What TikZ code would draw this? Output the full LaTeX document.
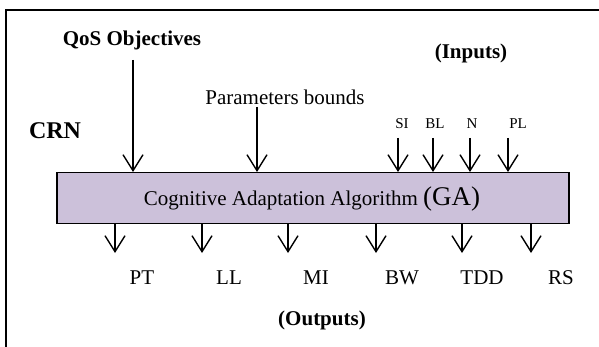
\documentclass[tikz,border=0pt]{standalone}
\usepackage{fontspec}
\setmainfont{Liberation Serif}
\usetikzlibrary{arrows.meta}
\definecolor{boxfill}{HTML}{CCC1DA}
\tikzset{
  inarrow/.style={line width=1.4pt,-{Straight Barb[length=16pt,width=20pt,line width=1.4pt]}},
  lbl/.style={font=\fontsize{21}{24}\selectfont,inner sep=0pt},
  blbl/.style={font=\fontsize{21}{24}\selectfont\bfseries,inner sep=0pt},
  slbl/.style={font=\fontsize{15}{17}\selectfont,inner sep=0pt},
}
\begin{document}
\begin{tikzpicture}[x=1pt,y=-1pt]
\useasboundingbox (0,0) rectangle (599,347);
\fill[white] (0,0) rectangle (599,347);
% frame
\draw[line width=2pt] (6,348) -- (6,10) -- (600,10);
% main box
\node[draw,line width=1.5pt,fill=boxfill,minimum width=512pt,minimum height=51pt,inner sep=0pt,anchor=north west] (ga) at (56,172) {};
\node[lbl] (gat) at (312,199) {Cognitive Adaptation Algorithm \fontsize{27}{30}\selectfont(GA)};
% labels
\node[blbl] (qos) at (132,40) {QoS Objectives};
\node[lbl] (pb) at (285,97) {Parameters bounds};
\node[blbl,font=\fontsize{24}{27}\selectfont\bfseries] (crn) at (55,131) {CRN};
\node[blbl] (inp) at (471,53) {(Inputs)};
\node[blbl] (outp) at (322,320) {(Outputs)};
\node[slbl] (si) at (402,124) {SI};
\node[slbl] (bl) at (435,124) {BL};
\node[slbl] (n) at (472,124) {N};
\node[slbl] (pl) at (518,124) {PL};
% input arrows
\coordinate (q0) at (133,60);
\coordinate (p0) at (257,107);
\coordinate (s0) at (398,138);
\coordinate (b0) at (433,138);
\coordinate (n0) at (470,138);
\coordinate (l0) at (508,138);
\foreach \c in {q0,p0,s0,b0,n0,l0}{
  \draw[inarrow] (\c) -- (\c |- ga.north);
}
% outputs
\node[lbl] (pt) at (142,278) {PT};
\node[lbl] (ll) at (229,278) {LL};
\node[lbl] (mi) at (316,278) {MI};
\node[lbl] (bw) at (402,278) {BW};
\node[lbl] (tdd) at (482,278) {TDD};
\node[lbl] (rs) at (561,278) {RS};
\foreach \xx/\nm in {115/o1,202/o2,288/o3,376/o4,462/o5,531/o6}{
  \coordinate (\nm) at (\xx,253);
  \draw[inarrow] (ga.south -| \nm) -- (\nm);
}
\end{tikzpicture}
\end{document}
